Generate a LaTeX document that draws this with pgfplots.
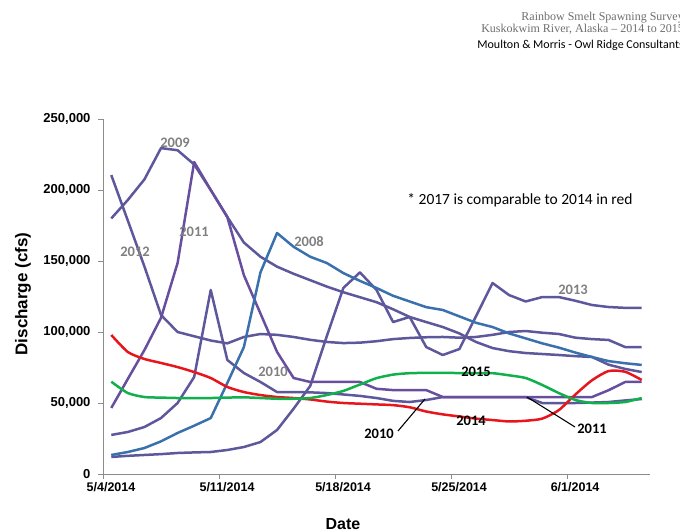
\documentclass[border=0pt]{standalone}
\usepackage{pgfplots}
\pgfplotsset{compat=1.18}
\usepackage{pgfplotstable}
\usepackage{fontspec}
\setmainfont{Liberation Sans}
\newfontfamily\carlito{Carlito}
\newfontfamily\serifa{Liberation Serif}
\definecolor{purp}{RGB}{93,87,155}
\definecolor{purp2}{RGB}{104,78,158}
\definecolor{blue08}{RGB}{58,112,172}
\definecolor{red14}{RGB}{232,22,28}
\definecolor{green15}{RGB}{16,176,76}
\definecolor{lblgray}{RGB}{128,128,128}
\definecolor{axisgray}{RGB}{140,140,140}
\definecolor{hdrgray}{RGB}{110,110,110}

\pgfplotstableread{
x    a08    a09    a10    a11    a12    a13    a14    a15
0.5  13400  180000 27500  46500  210500 12000  97900  65000
1.5  15500  193000 29600  67000  178400 12800  85900  57000
2.5  18300  207500 33100  87300  146100 13400  81000  54200
3.5  23000  229500 39400  110000 112000 14000  78200  53800
4.5  28900  228000 50000  148600 100000 14800  75300  53500
5.5  34000  218000 68300  219700 97000  15200  71800  53500
6.5  39400  200000 129600 200000 94000  15500  67600  53500
7.5  64100  181000 80300  181000 92000  16900  61300  53800
8.5  89400  163000 71100  140000 96500  19000  57700  54000
9.5  142000 153000 64800  113000 98600  22500  55600  53500
10.5 169700 146000 57700  86000  98000  31000  54200  53000
11.5 160000 141000 57700  67600  96500  46000  53500  53000
12.5 153000 136500 57500  64800  94500  62000  52500  53500
13.5 148600 132000 57000  64800  93000  97000  51000  55600
14.5 141500 128000 56000  64800  92200  131000 50000  58500
15.5 136000 124500 55000  64800  92500  142000 49500  63000
16.5 131000 121000 53500  60000  93500  129600 49000  67500
17.5 125500 116000 51500  59100  95000  107000 48500  70000
18.5 121500 110600 50700  59100  95800  110600 47000  71000
19.5 117500 107000 52100  59100  96300  89400  44000  71200
20.5 115500 103500 54200  54200  96500  83800  42000  71200
21.5 111000 99000  54200  54200  96000  88000  40500  71100
22.5 106500 93000  54200  54200  96500  111000 39000  71100
23.5 103500 88700  54200  54200  98000  134500 38000  71000
24.5 99000  86500  54200  54200  100000 126000 37000  69500
25.5 95500  85200  54200  54200  100700 121500 37500  67600
26.5 92000  84500  50000  54200  99500  124600 39000  62700
27.5 89000  83800  50000  54200  98600  124600 45000  57000
28.5 85500  83000  50000  54200  96000  122000 56000  52100
29.5 82400  82400  50300  54200  95000  119000 66000  50000
30.5 79500  77000  50700  59000  94400  117600 72500  50000
31.5 78000  74000  51800  64800  89400  117000 72000  50700
32.5 76800  71800  52800  64800  89400  117000 66200  53500
}\flows

\begin{document}
\begin{tikzpicture}[x=1pt,y=1pt]
\path[use as bounding box] (0,0) rectangle (680,531);
\begin{axis}[
  at={(103pt,57pt)}, anchor=south west,
  scale only axis, width=547pt, height=355pt,
  xmin=0, xmax=33, ymin=0, ymax=250000,
  axis x line*=bottom, axis y line*=left,
  axis line style={-, draw=axisgray, line width=0.8pt},
  tick align=outside, major tick length=5pt,
  tick style={draw=axisgray, line width=0.8pt},
  xtick={0,7,14,21,28},
  xticklabels={5/4/2014,5/11/2014,5/18/2014,5/25/2014,6/1/2014},
  ytick={0,50000,100000,150000,200000,250000},
  yticklabels={0,{50,000},{100,000},{150,000},{200,000},{250,000}},
  scaled y ticks=false,
  xticklabel style={font=\fontsize{12.5}{14}\selectfont\bfseries, xshift=8pt},
  yticklabel style={font=\fontsize{13}{15}\selectfont\bfseries, xshift=-4pt},
  clip=false,
  every axis plot/.append style={line width=2.5pt, line join=round},
]
\addplot[no marks, purp] table[x=x,y=a09] {\flows};
\addplot[no marks, purp] table[x=x,y=a12] {\flows};
\addplot[no marks, purp] table[x=x,y=a13] {\flows};
\addplot[no marks, purp] table[x=x,y=a10] {\flows};
\addplot[no marks, purp2] table[x=x,y=a11] {\flows};
\addplot[no marks, blue08] table[x=x,y=a08] {\flows};
\addplot[no marks, red14, smooth, tension=0.4] table[x=x,y=a14] {\flows};
\addplot[no marks, green15, smooth, tension=0.4] table[x=x,y=a15] {\flows};
\end{axis}

% header
\node[anchor=base east, text=hdrgray, font=\serifa\fontsize{12}{14}\selectfont, inner sep=0] at (684,510) {Rainbow Smelt Spawning Survey};
\node[anchor=base east, text=hdrgray, font=\serifa\fontsize{12}{14}\selectfont, inner sep=0] at (684,498) {Kuskokwim River, Alaska – 2014 to 2015};
\node[anchor=base east, text=black, font=\carlito\fontsize{12}{14}\selectfont, inner sep=0] at (684,482) {Moulton \& Morris - Owl Ridge Consultants};

% axis titles
\node[rotate=90, font=\fontsize{17}{20}\selectfont\bfseries, inner sep=0] at (23,237) {Discharge (cfs)};
\node[anchor=base, font=\fontsize{16}{19}\selectfont\bfseries, inner sep=0] at (343,2) {Date};

% note
\node[anchor=base, font=\carlito\fontsize{15.5}{18}\selectfont, inner sep=0] at (520,326) {* 2017 is comparable to 2014 in red};

% gray series labels
\begin{scope}[every node/.style={font=\carlito\bfseries\fontsize{14.5}{17}\selectfont, text=lblgray, inner sep=0}]
\node at (175,388) {2009};
\node at (135,279) {2012};
\node at (194,299) {2011};
\node at (309,289) {2008};
\node at (273,159) {2010};
\node at (573,241) {2013};
\end{scope}
% black series labels
\begin{scope}[every node/.style={font=\carlito\bfseries\fontsize{14.5}{17}\selectfont, text=black, inner sep=0}]
\node at (476,159) {2015};
\node at (471,110) {2014};
\node at (379,97) {2010};
\node at (592,102) {2011};
\end{scope}
\draw[black, line width=1.1pt] (398,100) -- (425,132);
\draw[black, line width=1.1pt] (575,104) -- (527,134);
\end{tikzpicture}
\end{document}
